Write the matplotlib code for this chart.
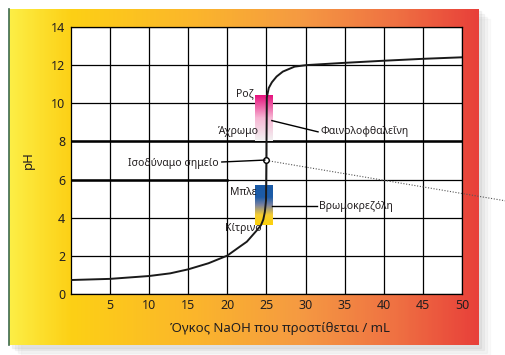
# ==========================================================
# KAMPYLI OGKOMETRISIS (HCl + NaOH)
# ==========================================================

import numpy as np
import matplotlib.pyplot as plt
from matplotlib.colors import LinearSegmentedColormap
from matplotlib.patches import Rectangle

plt.rcParams['font.family'] = ['Noto Sans', 'DejaVu Sans']

# ==========================================================
# DATA
# ==========================================================

volume = [0, 5, 10, 12.7, 15, 17.6, 20, 21.6, 22.5, 23.7, 24.3, 24.6, 24.8,
          24.95, 25.0, 25.05, 25.3, 25.7, 26.3, 27.1, 28.6, 30.1, 35, 40, 45, 50]

ph = [0.73, 0.79, 0.94, 1.08, 1.29, 1.61, 2.01, 2.48, 2.74, 3.3, 3.6, 3.9, 4.3,
      4.9, 7.0, 10.3, 10.8, 11.1, 11.4, 11.66, 11.92, 12.0, 12.12, 12.23, 12.33, 12.41]

x_ticks = [5, 10, 15, 20, 25, 30, 35, 40, 45, 50]
y_ticks = [0, 2, 4, 6, 8, 10, 12, 14]

equiv_point = (25, 7)

# περιοχές αλλαγής χρώματος δεικτών (pH)
phenol_range = (8.0, 10.4)
bromo_range = (3.6, 5.65)

TEXT = "#231f20"

# ==========================================================
# FIGURE + BACKGROUND
# ==========================================================

fig = plt.figure(figsize=(5.06, 3.55), dpi=100)

# σκιά
for i, a in enumerate([0.04, 0.05, 0.07, 0.09]):
    off = (4 - i) * 0.006
    fig.patches.append(Rectangle((0.018 + off, 0.028 - off * 1.2), 0.927, 0.947,
                                 transform=fig.transFigure, color="grey",
                                 alpha=a, zorder=0))

bg = fig.add_axes([0.018, 0.028, 0.927, 0.947], zorder=1)
grad_cmap = LinearSegmentedColormap.from_list(
    "panel",
    [(0.0, "#fcee45"), (0.13, "#fdd015"), (0.40, "#fbb52c"),
     (0.62, "#f59a42"), (0.83, "#ef7042"), (1.0, "#e8403a")]
)
bg.imshow(np.linspace(0, 1, 300).reshape(1, -1), aspect="auto",
          cmap=grad_cmap, extent=[0, 1, 0, 1])
bg.set_xlim(0, 1)
bg.set_ylim(0, 1)
bg.axis("off")
bg.plot([0, 0], [0, 1], color="#3d6b4f", lw=1.2, clip_on=False)

# ==========================================================
# MAIN AXES
# ==========================================================

ax = fig.add_axes([0.140, 0.172, 0.773, 0.752], zorder=2)
ax.set_facecolor("white")
ax.set_xlim(0, 50)
ax.set_ylim(0, 14)

for xv in x_ticks:
    ax.axvline(xv, color="black", lw=0.9, zorder=1)
for yv in y_ticks:
    ax.axhline(yv, color="black", lw=0.9, zorder=1)

# παχύτερες γραμμές
ax.axhline(8, color="black", lw=1.8, zorder=1)
ax.plot([0, 20], [6, 6], color="black", lw=1.8, zorder=1)

for s in ax.spines.values():
    s.set_color("black")
    s.set_linewidth(0.9)

ax.set_xticks(x_ticks)
ax.set_yticks(y_ticks)
ax.tick_params(length=0, labelsize=9, colors=TEXT, pad=4)
ax.set_xlabel("Όγκος NaOH που προστίθεται / mL", fontsize=9.5, color=TEXT, labelpad=9)
ax.xaxis.set_label_coords(0.535, -0.105)
ax.set_ylabel("pH", fontsize=9.5, color=TEXT)
ax.yaxis.set_label_coords(-0.093, 0.5)

# ==========================================================
# INDICATOR BARS
# ==========================================================

pink_cmap = LinearSegmentedColormap.from_list("pink", ["#f2f2f2", "#f7b7d4", "#e5127d"])
ax.imshow(np.linspace(0, 1, 100).reshape(-1, 1), aspect="auto", cmap=pink_cmap,
          origin="lower", extent=[23.6, 25.9, phenol_range[0], phenol_range[1]], zorder=2)

bromo_cmap = LinearSegmentedColormap.from_list(
    "bromo", [(0, "#fdd20a"), (0.25, "#f5cc30"), (0.5, "#7a82a0"), (0.7, "#1d5ca8"), (1, "#1a5aa6")])
ax.imshow(np.linspace(0, 1, 100).reshape(-1, 1), aspect="auto", cmap=bromo_cmap,
          origin="lower", extent=[23.6, 25.9, bromo_range[0], bromo_range[1]], zorder=2)

ax.set_xlim(0, 50)
ax.set_ylim(0, 14)

# ==========================================================
# CURVE
# ==========================================================

ax.plot(volume, ph, color="#1a1a1a", lw=1.4, zorder=4,
        solid_capstyle="round", solid_joinstyle="round")

ax.plot([equiv_point[0], 55.6], [equiv_point[1], 4.88], color="#555555",
        lw=0.8, ls=(0, (1, 1.5)), clip_on=False, zorder=3)
ax.plot(*equiv_point, marker="o", ms=4, mfc="white", mec="black", mew=1.0, zorder=5)

# ==========================================================
# LABELS
# ==========================================================

fs = 7.5
ax.text(23.4, 10.5, "Ροζ", fontsize=fs, color=TEXT, ha="right", va="center", zorder=6)
ax.text(24.0, 8.5, "Άχρωμο", fontsize=fs, color=TEXT, ha="right", va="center", zorder=6)
ax.text(31.9, 8.5, "Φαινολοφθαλεΐνη", fontsize=fs, color=TEXT, ha="left", va="center", zorder=6)
ax.plot([25.7, 31.6], [9.09, 8.5], color="black", lw=1.0, zorder=5)

ax.text(18.9, 6.85, "Ισοδύναμο σημείο", fontsize=fs, color=TEXT, ha="right", va="center", zorder=6)
ax.plot([19.3, 24.8], [6.92, 7.02], color="black", lw=1.0, zorder=5)

ax.text(23.8, 5.31, "Μπλε", fontsize=fs, color=TEXT, ha="right", va="center", zorder=6)
ax.text(31.7, 4.56, "Βρωμοκρεζόλη", fontsize=fs, color=TEXT, ha="left", va="center", zorder=6)
ax.plot([25.7, 31.5], [4.63, 4.63], color="black", lw=1.0, zorder=5)
ax.text(24.4, 3.41, "Κίτρινο", fontsize=fs, color=TEXT, ha="right", va="center", zorder=6)

fig.savefig("out.png", dpi=100)
